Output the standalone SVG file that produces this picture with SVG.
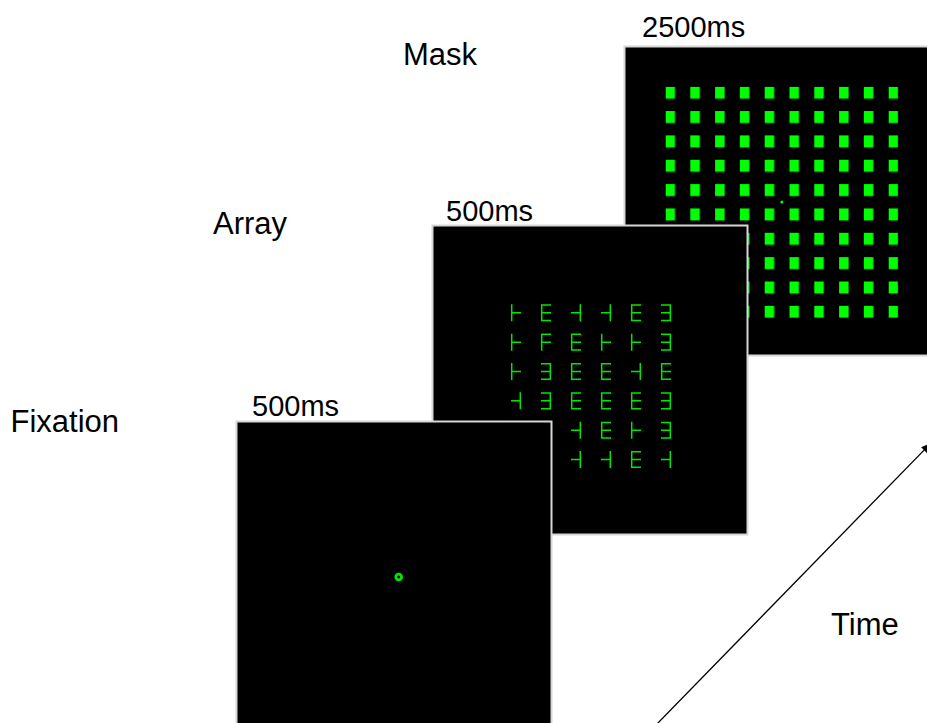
<svg xmlns="http://www.w3.org/2000/svg" xmlns:xlink="http://www.w3.org/1999/xlink" width="927" height="723" viewBox="0 0 927 723">
<style>
.lbl{font-family:"Liberation Sans",Arial,sans-serif;font-size:29px;fill:#000}
.word{font-size:31px}
.panel{fill:#000;stroke:#d6d6d6;stroke-width:2}
.g{fill:none;stroke:#00e600;stroke-width:1.5}
.arrow{fill:none;stroke:#000;stroke-width:1.3}
</style>
<defs>
<pattern id="sq" patternUnits="userSpaceOnUse" x="665.5" y="86.7" width="24.8" height="24.35">
<rect x="0" y="0" width="9.5" height="12" fill="#00ff00"/>
</pattern>
<path id="E" class="g" d="M0.7,0V17M0,0.7H10M0,8.5H10M0,16.3H10"/>
<path id="F" class="g" d="M0.7,0V17M0,0.7H10M0,8.5H10"/>
<path id="M" class="g" d="M9.3,0V17M0,0.7H10M0,8.5H10M0,16.3H10"/>
<path id="L" class="g" d="M0.7,0V17M0.7,8.5H10"/>
<path id="R" class="g" d="M9.3,0V17M0,8.5H9.3"/>
<marker id="ah" markerUnits="userSpaceOnUse" markerWidth="12" markerHeight="10" refX="10" refY="4" orient="auto">
<path d="M0,0L10,4L0,8z" fill="#000"/>
</marker>
</defs>

<g id="mask">
<rect class="panel" x="624.5" y="46.5" width="315" height="309"/>
<rect x="665.5" y="86.7" width="232.7" height="231.2" fill="url(#sq)"/>
<circle cx="781.8" cy="202" r="1.5" fill="#00ff00"/>
</g>

<g id="array">
<rect class="panel" x="432.5" y="225.5" width="315" height="309"/>
<use href="#L" x="511" y="304.3"/><use href="#E" x="541" y="304.3"/><use href="#R" x="571" y="304.3"/><use href="#R" x="601" y="304.3"/><use href="#E" x="631" y="304.3"/><use href="#M" x="661" y="304.3"/>
<use href="#L" x="511" y="333.65"/><use href="#F" x="541" y="333.65"/><use href="#E" x="571" y="333.65"/><use href="#L" x="601" y="333.65"/><use href="#L" x="631" y="333.65"/><use href="#M" x="661" y="333.65"/>
<use href="#L" x="511" y="363"/><use href="#M" x="541" y="363"/><use href="#E" x="571" y="363"/><use href="#E" x="601" y="363"/><use href="#R" x="631" y="363"/><use href="#E" x="661" y="363"/>
<use href="#R" x="511" y="392.35"/><use href="#M" x="541" y="392.35"/><use href="#E" x="571" y="392.35"/><use href="#E" x="601" y="392.35"/><use href="#E" x="631" y="392.35"/><use href="#M" x="661" y="392.35"/>
<use href="#R" x="571" y="421.7"/><use href="#E" x="601" y="421.7"/><use href="#L" x="631" y="421.7"/><use href="#M" x="661" y="421.7"/>
<use href="#R" x="571" y="451.05"/><use href="#R" x="601" y="451.05"/><use href="#E" x="631" y="451.05"/><use href="#R" x="661" y="451.05"/>
</g>

<g id="fixation">
<rect class="panel" x="236.5" y="421.5" width="315" height="320"/>
<circle cx="398.7" cy="577" r="2.9" fill="none" stroke="#00e600" stroke-width="2.8"/>
</g>

<g id="labels">
<text class="lbl word" x="403" y="65">Mask</text>
<text class="lbl word" x="213" y="234">Array</text>
<text class="lbl word" x="10.5" y="432">Fixation</text>
<text class="lbl" x="642" y="37">2500ms</text>
<text class="lbl" x="446" y="221">500ms</text>
<text class="lbl" x="252" y="416">500ms</text>
<text class="lbl word" x="831" y="635">Time</text>
</g>

<g id="connectors">
<line class="arrow" x1="656" y1="725" x2="931" y2="443" marker-end="url(#ah)"/>
</g>
</svg>
